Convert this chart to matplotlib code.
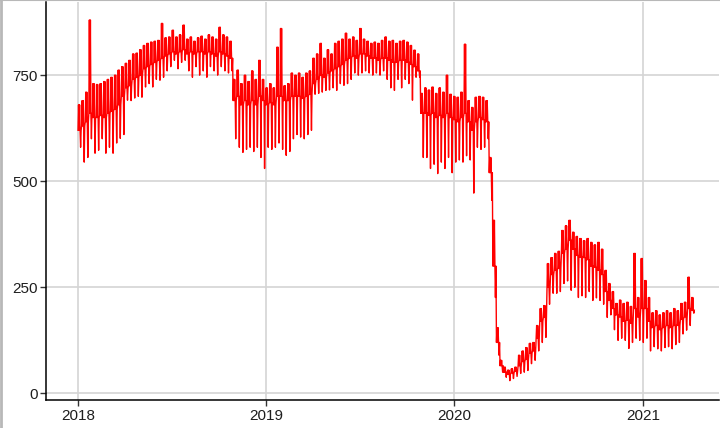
import numpy as np
import pandas as pd
import matplotlib
matplotlib.use("Agg")
from matplotlib import pyplot as plt
import matplotlib.dates as mdates
from matplotlib.lines import Line2D

plt.rcParams['font.family'] = ['Liberation Sans', 'DejaVu Sans']

# weekly readings, first week starts 2018-01-01
start = "2018-01-01"
# weekday peak level
week_top = [680, 690, 710, 880, 730, 728, 730, 735, 740, 745,
            750, 762, 770, 778, 785, 800, 802, 810, 820, 825,
            828, 830, 832, 872, 838, 840, 856, 840, 845, 868,
            835, 840, 830, 838, 842, 835, 845, 840, 835, 863,
            845, 840, 830, 740, 762, 730, 750, 735, 760, 740,
            785, 740, 720, 730, 720, 816, 860, 725, 730, 755,
            750, 755, 745, 755, 760, 790, 800, 825, 790, 810,
            800, 825, 830, 835, 849, 835, 840, 832, 860, 835,
            830, 825, 828, 825, 832, 840, 830, 832, 825, 830,
            832, 828, 820, 809, 800, 707, 720, 715, 722, 707,
            720, 710, 750, 705, 700, 698, 710, 823, 690, 674,
            698, 700, 698, 690, 556, 408, 155, 78, 62, 55,
            58, 62, 90, 100, 108, 118, 120, 160, 200, 207,
            306, 320, 330, 335, 384, 395, 408, 380, 370, 365,
            360, 365, 356, 350, 356, 340, 290, 259, 240, 212,
            220, 212, 215, 205, 330, 226, 318, 266, 226, 190,
            195, 185, 190, 195, 190, 200, 195, 212, 215, 274,
            226]
# weekday lower level
week_base = [620, 630, 640, 660, 650, 650, 655, 650, 660, 665,
             670, 680, 700, 720, 725, 740, 745, 750, 765, 770,
             775, 780, 785, 790, 795, 800, 805, 800, 805, 810,
             800, 805, 800, 805, 805, 800, 805, 800, 795, 805,
             800, 795, 790, 690, 700, 680, 690, 680, 690, 680,
             700, 690, 680, 685, 680, 700, 700, 690, 690, 700,
             700, 700, 695, 700, 705, 730, 740, 750, 745, 755,
             760, 765, 770, 775, 785, 790, 795, 790, 800, 800,
             795, 790, 790, 785, 790, 790, 785, 780, 780, 785,
             785, 780, 775, 770, 760, 660, 660, 655, 660, 650,
             655, 650, 660, 650, 645, 640, 650, 660, 640, 620,
             640, 650, 645, 640, 520, 300, 120, 65, 50, 45,
             48, 52, 65, 75, 80, 95, 100, 130, 170, 179,
             250, 280, 290, 295, 330, 340, 361, 340, 325, 321,
             320, 315, 300, 297, 290, 280, 240, 219, 200, 185,
             180, 170, 172, 165, 200, 180, 200, 200, 170, 155,
             160, 150, 155, 160, 155, 160, 160, 175, 180, 200,
             196]
# weekend dip
week_dip = [580, 545, 556, 600, 566, 573, 600, 566, 580, 566,
            590, 601, 610, 691, 690, 696, 700, 698, 722, 730,
            722, 740, 738, 745, 760, 770, 785, 765, 780, 785,
            760, 745, 770, 750, 760, 745, 770, 760, 750, 770,
            760, 755, 760, 600, 580, 568, 575, 580, 570, 580,
            556, 530, 580, 575, 580, 590, 575, 561, 570, 600,
            610, 604, 600, 610, 620, 705, 707, 710, 714, 715,
            720, 714, 730, 726, 730, 740, 755, 750, 755, 760,
            755, 750, 755, 750, 760, 740, 720, 714, 740, 720,
            740, 730, 691, 745, 745, 556, 556, 530, 540, 518,
            545, 530, 556, 520, 545, 550, 545, 560, 550, 472,
            580, 575, 580, 600, 455, 226, 90, 50, 38, 30,
            35, 40, 47, 50, 54, 70, 78, 100, 120, 132,
            210, 236, 236, 240, 259, 265, 243, 250, 226, 230,
            226, 240, 219, 225, 219, 210, 179, 185, 150, 125,
            130, 125, 106, 120, 130, 125, 120, 130, 100, 110,
            105, 100, 108, 110, 105, 115, 120, 140, 149, 160,
            189]

# lay the weekly readings out over the days of each week
daily = []
for t, b, d in zip(week_top, week_base, week_dip):
    daily += [b, t, b, t, b, d, b]
dates = pd.date_range(start, periods=len(daily), freq="D")

fig = plt.figure(figsize=(7.2, 4.28), dpi=100)
ax = fig.add_axes([0.064, 0.065, 0.934, 0.93])
ax.plot(dates, daily, color="#ff0000", lw=1.0)

ax.set_xlim(pd.Timestamp("2017-10-31"), pd.Timestamp("2021-05-28"))
ax.set_ylim(-16, 922)
ax.set_yticks([0, 250, 500, 750])
ax.xaxis.set_major_locator(mdates.YearLocator())
ax.xaxis.set_major_formatter(mdates.DateFormatter("%Y"))

ax.grid(True, color="#d4d4d4", lw=1.2)
ax.set_axisbelow(True)
for s in ["top", "right"]:
    ax.spines[s].set_visible(False)
for s in ["left", "bottom"]:
    ax.spines[s].set_color("black")
    ax.spines[s].set_linewidth(1.1)
ax.tick_params(axis="both", length=4, width=1, color="#333333",
               labelsize=11, labelcolor="#1e1e1e", pad=2)

# thin frame around the picture
fig.add_artist(Line2D([0.0015, 0.0015], [0, 1], color="#b8b8b8", lw=2))
fig.add_artist(Line2D([0, 1], [0.999, 0.999], color="#b8b8b8", lw=1.5))

fig.savefig("out.png", dpi=100)
